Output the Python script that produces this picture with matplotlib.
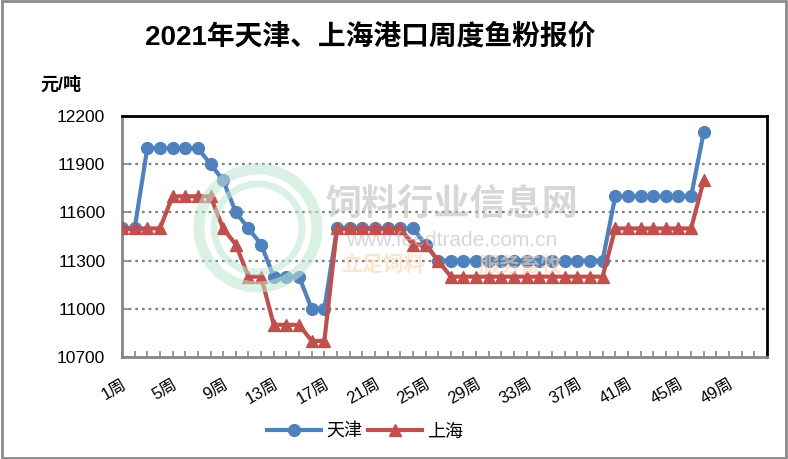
import matplotlib.pyplot as plt
from matplotlib.patches import Ellipse

# ── Data ─────────────────────────────────────────────────────────────────────

weeks = [f"{i}周" for i in range(1, 53)]

tianjin = [11500, 11500, 12000, 12000, 12000, 12000, 12000, 11900, 11800, 11600,
           11500, 11400, 11200, 11200, 11200, 11000, 11000, 11500, 11500, 11500,
           11500, 11500, 11500, 11500, 11400, 11300, 11300, 11300, 11300, 11300,
           11300, 11300, 11300, 11300, 11300, 11300, 11300, 11300, 11300, 11700,
           11700, 11700, 11700, 11700, 11700, 11700, 12100]

shanghai = [11500, 11500, 11500, 11500, 11700, 11700, 11700, 11700, 11500, 11400,
            11200, 11200, 10900, 10900, 10900, 10800, 10800, 11500, 11500, 11500,
            11500, 11500, 11500, 11400, 11400, 11300, 11200, 11200, 11200, 11200,
            11200, 11200, 11200, 11200, 11200, 11200, 11200, 11200, 11200, 11500,
            11500, 11500, 11500, 11500, 11500, 11500, 11800]

y_ticks = [10700, 11000, 11300, 11600, 11900, 12200]

# ── Fonts / colours ──────────────────────────────────────────────────────────

plt.rcParams['font.family'] = ['Liberation Sans', 'Noto Sans CJK SC', 'DejaVu Sans']
blue = "#4f81bd"
red = "#c0504d"
gray = "#868686"

W, H = 788, 459
fig = plt.figure(figsize=(W / 100, H / 100), dpi=100)

# outer frame
fig.patches.append(plt.Rectangle((0.002, 0.003), 0.996, 0.994, transform=fig.transFigure,
                                 fill=False, edgecolor="#8c8c8c", linewidth=2))

ax = fig.add_axes([122 / W, 1 - 357 / H, 645 / W, 241 / H])

x = list(range(len(weeks)))
ax.plot(x[:len(tianjin)], tianjin, color=blue, linewidth=3, marker="o",
        markersize=8.5, label="天津", zorder=3)
ax.plot(x[:len(shanghai)], shanghai, color=red, linewidth=3, marker="^",
        markersize=9, label="上海", zorder=4)

ax.set_xlim(0, len(weeks) - 1)
ax.set_ylim(10700, 12200)
ax.set_yticks(y_ticks)
ax.set_yticklabels([str(v) for v in y_ticks], fontsize=12.5)
for v in y_ticks[1:-1]:
    ax.axhline(v, color="#7f7f7f", linestyle=(0, (1.2, 1.8)), linewidth=1.6, zorder=1)

ax.set_xticks(x)
ax.set_xticklabels([w if i % 4 == 0 else "" for i, w in enumerate(weeks)],
                   rotation=30, ha="right", va="top", rotation_mode="anchor", fontsize=12)
ax.tick_params(axis="x", direction="in", length=4, width=1.2, color=gray, pad=14)
ax.tick_params(axis="y", direction="in", length=5, width=1.2, color=gray, pad=12)

for side in ["left", "bottom"]:
    ax.spines[side].set_color(gray)
    ax.spines[side].set_linewidth(2)
for side in ["top", "right"]:
    ax.spines[side].set_color("black")
    ax.spines[side].set_linewidth(2)

# watermark (faint logo rings + site text)
for d, lw in [(118, 8), (88, 5)]:
    fig.patches.append(Ellipse((258 / W, 1 - 228 / H), d / W, d / H, transform=fig.transFigure,
                               fill=False, edgecolor="#bfe6d3", linewidth=lw, alpha=0.55, zorder=5))
fig.text(452 / W, 1 - 205 / H, "饲料行业信息网", fontsize=26, fontweight="bold",
         color="#bdbdbd", alpha=0.6, ha="center", va="center", zorder=6)
fig.text(452 / W, 1 - 241 / H, "www.feedtrade.com.cn", fontsize=15,
         color="#bdbdbd", alpha=0.6, ha="center", va="center", zorder=6)
fig.text(383 / W, 1 - 266 / H, "立足饲料", fontsize=15, fontweight="bold", style="italic",
         color="#fbd3ac", alpha=0.6, ha="center", va="center", zorder=6)
fig.text(520 / W, 1 - 266 / H, "服务畜牧", fontsize=15, fontweight="bold", style="italic",
         color="#fbd3ac", alpha=0.6, ha="center", va="center", zorder=6)

fig.text(370 / W, 1 - 37 / H, "2021年天津、上海港口周度鱼粉报价", fontsize=20,
         fontweight="bold", ha="center", va="center")
fig.text(40 / W, 1 - 85 / H, "元/吨", fontsize=13, fontweight="bold", ha="left", va="center")

fig.legend(loc="center", bbox_to_anchor=(365 / W, 1 - 432 / H), ncol=2, frameon=False,
           fontsize=13, handlelength=3, columnspacing=0.3, handletextpad=0.3)

plt.savefig("out.png", dpi=100)
